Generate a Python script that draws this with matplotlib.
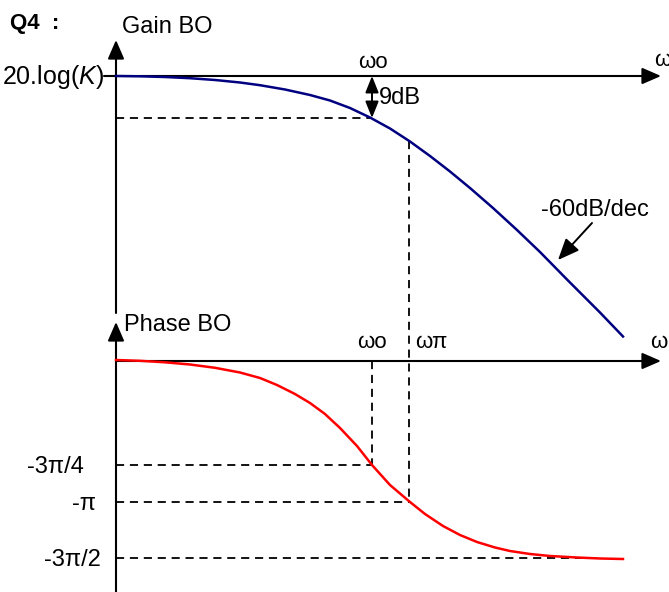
import numpy as np
import matplotlib
matplotlib.use("Agg")
import matplotlib.pyplot as plt

plt.rcParams['font.family'] = ['Liberation Sans', 'DejaVu Sans']
plt.rcParams['mathtext.fontset'] = 'custom'
plt.rcParams['mathtext.rm'] = 'Liberation Sans'
plt.rcParams['mathtext.it'] = 'Liberation Sans:italic'

# sketch coordinates (pixels, y downwards)
gain_x = [116, 140, 165, 190, 215, 240, 260, 285, 310, 330, 350, 370, 390, 410,
          430, 450, 470, 493, 517, 540, 567, 600, 623]
gain_y = [76, 76.3, 77, 78.2, 80, 82.5, 85.2, 89.5, 95, 100.5, 108, 117.5, 128.5, 141.5,
          156, 171.5, 188, 208, 230, 252, 279.5, 312.5, 336.5]
phase_x = [116, 140, 165, 190, 215, 240, 260, 277, 295, 310, 325, 340, 357, 372,
           390, 410, 425, 443, 460, 477, 495, 510, 530, 550, 577, 600, 623]
phase_y = [360, 360.8, 362.3, 364.5, 367.8, 372.5, 378, 385, 394, 403, 414, 428, 446, 465,
           485, 502, 514, 526, 535, 542, 547.5, 551, 554, 556, 557.5, 558.5, 559]

w0_x = 372
wpi_x = 409
gain_9db_y = 118
phase_ticks = ['-3π/4', '-π', '-3π/2']
phase_tick_y = [465, 502, 558]
phase_tick_right = [84, 96, 101]
phase_tick_end = [w0_x, wpi_x, 600]

fig = plt.figure(figsize=(6.69, 5.92), dpi=100)
ax = fig.add_axes([0, 0, 1, 1])
ax.set_xlim(0, 669)
ax.set_ylim(592, 0)
ax.axis('off')

fs = 17
arrow_kw = dict(arrowstyle='-|>,head_length=1.15,head_width=0.5', color='k', lw=1.5,
                shrinkA=0, shrinkB=0)

# axes with arrows
gain_y0, phase_y0 = 76, 361
ax.annotate('', xy=(116, 40), xytext=(116, 313), arrowprops=arrow_kw)
ax.annotate('', xy=(661, gain_y0), xytext=(104, gain_y0), arrowprops=arrow_kw)
ax.annotate('', xy=(116, 322), xytext=(116, 592), arrowprops=arrow_kw)
ax.annotate('', xy=(661, phase_y0), xytext=(116, phase_y0), arrowprops=arrow_kw)

# curves
ax.plot(gain_x, gain_y, color='#000080', lw=1.8, zorder=3, solid_joinstyle='round')
ax.plot(phase_x, phase_y, color='#ff0000', lw=1.8, zorder=3, solid_joinstyle='round')

dash = dict(color='k', lw=1.3, ls=(0, (4.5, 3.2)))
ax.plot([116, w0_x], [gain_9db_y, gain_9db_y], **dash)
ax.plot([wpi_x, wpi_x], [np.interp(wpi_x, gain_x, gain_y), 502], **dash)
ax.plot([w0_x, w0_x], [phase_y0, 465], **dash)
for y, x1 in zip(phase_tick_y, phase_tick_end):
    ax.plot([116, x1], [y, y], **dash)

# 9 dB double arrow
ax.annotate('', xy=(w0_x, gain_9db_y), xytext=(w0_x, gain_y0),
            arrowprops=dict(arrowstyle='<|-|>,head_length=1.0,head_width=0.4', color='k',
                            lw=1.4, shrinkA=0, shrinkB=0))
ax.text(379, 98, '9dB', fontsize=fs, va='center', ha='left')

# slope annotation
ax.annotate('', xy=(558, 260), xytext=(592, 223),
            arrowprops=dict(arrowstyle='-|>,head_length=1.3,head_width=0.55', color='k',
                            lw=1.4, shrinkA=0, shrinkB=0))
ax.text(541, 210, '-60dB/dec', fontsize=fs, va='center', ha='left')

# labels
ax.text(10, 23, 'Q4  :', fontsize=16, fontweight='bold', va='center', ha='left')
ax.text(122, 27, 'Gain BO', fontsize=fs, va='center', ha='left')
ax.text(124, 325, 'Phase BO', fontsize=fs, va='center', ha='left')
ax.text(104, 77, r'20.log($\mathit{K}$)', fontsize=18, va='center', ha='right')
ax.text(w0_x + 1, 62, 'ωo', fontsize=16, va='center', ha='center')
ax.text(w0_x, 343, 'ωo', fontsize=16, va='center', ha='center')
ax.text(431, 343, 'ωπ', fontsize=16, va='center', ha='center')
ax.text(654, 60, 'ω', fontsize=16, va='center', ha='left')
ax.text(650, 342, 'ω', fontsize=16, va='center', ha='left')
for lab, y, xr in zip(phase_ticks, phase_tick_y, phase_tick_right):
    ax.text(xr, y + 2, lab, fontsize=fs, va='center', ha='right')

fig.savefig('out.png', dpi=100)
